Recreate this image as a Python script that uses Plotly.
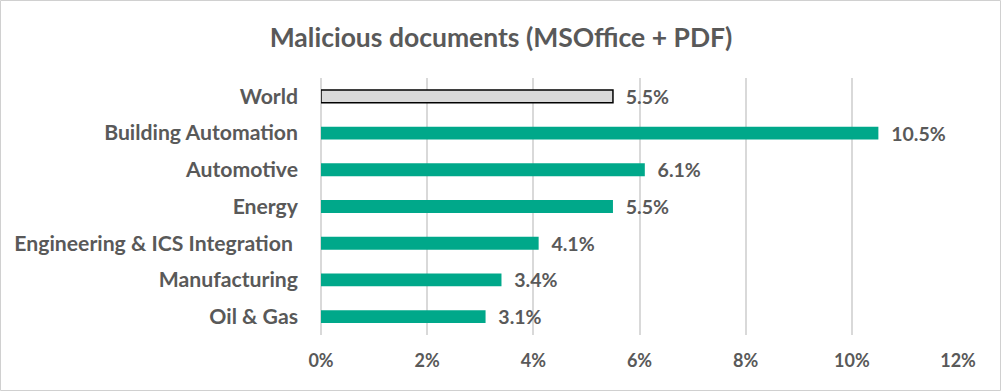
import plotly.graph_objects as go

categories = ["World", "Building Automation", "Automotive", "Energy",
              "Engineering & ICS Integration ", "Manufacturing", "Oil & Gas"]
values = [5.5, 10.5, 6.1, 5.5, 4.1, 3.4, 3.1]
labels = ["5.5%", "10.5%", "6.1%", "5.5%", "4.1%", "3.4%", "3.1%"]
tick_vals = [0, 2, 4, 6, 8, 10, 12]
tick_text = ["0%", "2%", "4%", "6%", "8%", "10%", "12%"]

W, H = 1002, 392
ML, MR, MT, MB = 321, 44, 78, 57
FONT = "Lato"
GRAY = "#595959"

colors = ["#d9d9d9"] + ["#00a88a"] * (len(categories) - 1)
line_colors = ["#000000"] + ["#00a88a"] * (len(categories) - 1)
line_widths = [1.5] + [0] * (len(categories) - 1)

fig = go.Figure(go.Bar(
    x=values, y=categories, orientation="h",
    marker=dict(color=colors, line=dict(color=line_colors, width=line_widths)),
    width=0.35,
    text=["\u2002" + t for t in labels], textposition="outside",
    constraintext="none",
    textfont=dict(family=FONT, size=19.5, color=GRAY, weight="bold"),
    cliponaxis=False,
))

pw = W - ML - MR
ph = H - MT - MB
fig.add_shape(type="rect", xref="paper", yref="paper",
              x0=-(ML - 0.5) / pw, x1=1 + (MR - 1.5) / pw,
              y0=-(MB - 1.5) / ph, y1=1 + (MT - 0.5) / ph,
              line=dict(color="#d0d0d0", width=1), layer="below")

fig.update_layout(
    width=W, height=H,
    margin=dict(l=ML, r=MR, t=MT, b=MB),
    paper_bgcolor="white", plot_bgcolor="white",
    title=dict(text="Malicious documents (MSOffice + PDF)", x=0.5, xref="container",
               y=1 - 38 / H, yanchor="middle", xanchor="center",
               font=dict(family=FONT, size=26.5, color=GRAY, weight="bold")),
    showlegend=False,
    xaxis=dict(range=[0, 12], tickvals=tick_vals, ticktext=tick_text,
               showgrid=True, gridcolor="#d9d9d9", gridwidth=1.5,
               zeroline=True, zerolinecolor="#d9d9d9", zerolinewidth=1.5,
               showline=False, ticks="", ticklabelstandoff=13,
               tickfont=dict(family=FONT, size=18, color=GRAY, weight="bold")),
    yaxis=dict(autorange="reversed", showgrid=False, showline=False, ticks="",
               ticklabelstandoff=22,
               tickfont=dict(family=FONT, size=21.2, color=GRAY, weight="bold")),
    bargap=0.65,
)

fig.write_html("out.html", config={"displayModeBar": False},
               post_script="document.body.style.margin='0';document.body.style.overflow='hidden';")
